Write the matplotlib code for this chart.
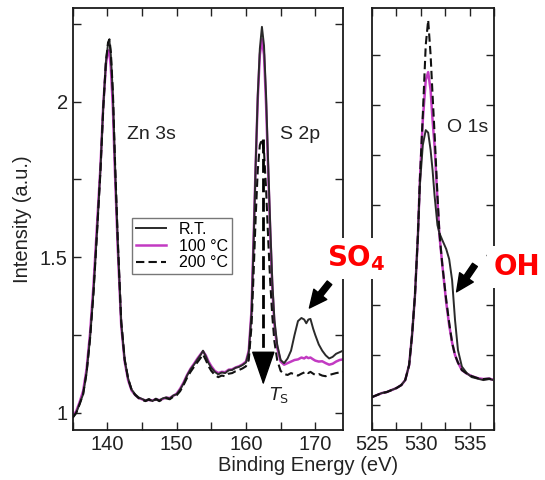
import matplotlib
matplotlib.use("Agg")
import matplotlib.pyplot as plt
from matplotlib.ticker import MultipleLocator, NullFormatter

plt.rcParams['font.family'] = ['Liberation Sans', 'DejaVu Sans']

# ---------------- data ----------------
labels = ["R.T.", "100 \u00b0C", "200 \u00b0C"]

# Zn 3s / S 2p panel
x_left = [135.0, 135.5, 136.0, 136.5, 137.0, 137.5, 138.0, 138.5, 139.0, 139.4,
          139.8, 140.1, 140.3, 140.5, 140.8, 141.1, 141.5, 142.0, 142.5, 143.0,
          143.5, 144.0, 144.5, 145.0, 145.5, 146.0, 146.5, 147.0, 147.5, 148.0,
          148.5, 149.0, 149.5, 150.0, 150.5, 151.0, 151.5, 152.0, 152.5, 153.0,
          153.5, 153.8, 154.2, 154.6, 155.0, 155.5, 156.0, 156.5, 157.0, 157.5,
          158.0, 158.5, 159.0, 159.5, 160.0, 160.4, 160.8, 161.1, 161.4, 161.7,
          162.0, 162.3, 162.6, 162.9, 163.2, 163.5, 163.8, 164.1, 164.5, 165.0,
          165.5, 166.0, 166.5, 167.0, 167.5, 168.0, 168.4, 168.7, 169.0, 169.3,
          169.7, 170.0, 170.5, 171.0, 171.5, 172.0, 172.5, 173.0, 173.5, 174.0]

rt_left = [0.985, 1.000, 1.030, 1.060, 1.130, 1.240, 1.390, 1.580, 1.780, 1.980,
           2.130, 2.185, 2.195, 2.150, 2.020, 1.800, 1.550, 1.290, 1.170, 1.110,
           1.075, 1.060, 1.050, 1.045, 1.040, 1.045, 1.038, 1.046, 1.040, 1.047,
           1.050, 1.046, 1.056, 1.060, 1.075, 1.095, 1.120, 1.140, 1.155, 1.172,
           1.188, 1.200, 1.182, 1.160, 1.145, 1.132, 1.124, 1.130, 1.128, 1.137,
           1.138, 1.145, 1.148, 1.154, 1.162, 1.195, 1.320, 1.550, 1.800, 2.020,
           2.170, 2.240, 2.180, 2.020, 1.800, 1.600, 1.420, 1.300, 1.220, 1.170,
           1.160, 1.175, 1.200, 1.250, 1.295, 1.305, 1.300, 1.288, 1.300, 1.302,
           1.270, 1.250, 1.220, 1.200, 1.185, 1.175, 1.180, 1.190, 1.195, 1.200]

c100_left = [0.990, 1.005, 1.035, 1.070, 1.140, 1.255, 1.410, 1.600, 1.790, 1.985,
             2.120, 2.165, 2.160, 2.110, 1.980, 1.770, 1.530, 1.280, 1.165, 1.105,
             1.072, 1.058, 1.048, 1.044, 1.040, 1.042, 1.040, 1.044, 1.041, 1.045,
             1.049, 1.048, 1.055, 1.062, 1.078, 1.098, 1.122, 1.142, 1.158, 1.175,
             1.190, 1.198, 1.185, 1.165, 1.150, 1.135, 1.128, 1.132, 1.131, 1.139,
             1.140, 1.146, 1.150, 1.156, 1.165, 1.200, 1.330, 1.560, 1.800, 2.010,
             2.150, 2.200, 2.150, 1.990, 1.780, 1.580, 1.400, 1.285, 1.210, 1.165,
             1.155, 1.160, 1.165, 1.170, 1.172, 1.178, 1.175, 1.180, 1.176, 1.178,
             1.172, 1.168, 1.165, 1.166, 1.160, 1.155, 1.158, 1.165, 1.170, 1.172]

c200_left = [0.985, 1.000, 1.028, 1.060, 1.128, 1.238, 1.385, 1.575, 1.775, 1.975,
             2.130, 2.190, 2.200, 2.160, 2.030, 1.810, 1.560, 1.295, 1.172, 1.110,
             1.074, 1.058, 1.048, 1.042, 1.038, 1.043, 1.036, 1.044, 1.038, 1.044,
             1.047, 1.044, 1.052, 1.057, 1.070, 1.090, 1.113, 1.132, 1.148, 1.163,
             1.178, 1.188, 1.170, 1.150, 1.135, 1.122, 1.115, 1.120, 1.118, 1.126,
             1.128, 1.134, 1.138, 1.143, 1.150, 1.170, 1.280, 1.450, 1.630, 1.780,
             1.860, 1.880, 1.840, 1.720, 1.560, 1.420, 1.310, 1.230, 1.170, 1.135,
             1.125, 1.122, 1.128, 1.124, 1.120, 1.126, 1.130, 1.134, 1.128, 1.132,
             1.126, 1.122, 1.125, 1.120, 1.118, 1.122, 1.125, 1.128, 1.130, 1.132]

# O 1s panel (own intensity scale)
x_right = [525.0, 525.5, 526.0, 526.5, 527.0, 527.5, 528.0, 528.4, 528.8, 529.1,
           529.4, 529.7, 529.9, 530.2, 530.5, 530.75, 531.0, 531.2, 531.4, 531.7,
           531.9, 532.2, 532.6, 532.9, 533.2, 533.5, 533.8, 534.2, 534.7, 535.2,
           535.8, 536.4, 537.0, 537.5]

rt_right = [1.016, 1.020, 1.024, 1.026, 1.030, 1.034, 1.040, 1.050, 1.080, 1.140,
            1.220, 1.340, 1.440, 1.520, 1.550, 1.545, 1.510, 1.470, 1.420, 1.360,
            1.344, 1.330, 1.312, 1.292, 1.250, 1.170, 1.110, 1.077, 1.064, 1.056,
            1.053, 1.050, 1.052, 1.050]

c100_right = [1.016, 1.020, 1.024, 1.026, 1.030, 1.034, 1.040, 1.050, 1.080, 1.140,
              1.220, 1.340, 1.450, 1.570, 1.650, 1.666, 1.630, 1.570, 1.520, 1.410,
              1.340, 1.280, 1.205, 1.160, 1.125, 1.100, 1.085, 1.070, 1.063, 1.058,
              1.054, 1.052, 1.053, 1.050]

c200_right = [1.016, 1.020, 1.024, 1.026, 1.030, 1.034, 1.040, 1.050, 1.080, 1.140,
              1.220, 1.340, 1.450, 1.580, 1.720, 1.770, 1.700, 1.620, 1.545, 1.420,
              1.345, 1.280, 1.210, 1.165, 1.125, 1.100, 1.085, 1.070, 1.063, 1.058,
              1.054, 1.052, 1.053, 1.050]

# ---------------- figure ----------------
fig = plt.figure(figsize=(5.45, 4.80), dpi=100)
axL = fig.add_axes([0.1334, 0.104, 0.496, 0.879])
axR = fig.add_axes([0.6826, 0.104, 0.224, 0.879])

col_rt = '#2a2a2a'
col_100 = '#c23ac2'
col_200 = '#111111'

for ax, xs, ys in [(axL, x_left, (rt_left, c100_left, c200_left)),
                   (axR, x_right, (rt_right, c100_right, c200_right))]:
    ax.plot(xs, ys[0], color=col_rt, lw=1.4, label=labels[0], zorder=3)
    ax.plot(xs, ys[1], color=col_100, lw=1.8, label=labels[1], zorder=2)
    ax.plot(xs, ys[2], color=col_200, lw=1.5, ls=(0, (4, 2)), label=labels[2], zorder=4)

axL.set_xlim(135, 174)
axL.set_ylim(0.945, 2.30)
axL.xaxis.set_major_locator(MultipleLocator(10))
axL.xaxis.set_minor_locator(MultipleLocator(5))
axL.yaxis.set_major_locator(MultipleLocator(0.5))
axL.yaxis.set_minor_locator(MultipleLocator(0.25))
axL.yaxis.set_major_formatter(plt.FuncFormatter(lambda v, p: f"{v:g}"))

axR.set_xlim(525, 537.5)
axR.set_ylim(0.95, 1.794)
axR.xaxis.set_major_locator(MultipleLocator(5))
axR.xaxis.set_minor_locator(MultipleLocator(2.5))
axR.yaxis.set_major_locator(MultipleLocator(0.1))
axR.yaxis.set_major_formatter(NullFormatter())

for ax in (axL, axR):
    ax.tick_params(which='both', direction='in', top=True, right=True,
                   labelsize=14.5, colors='#222222', width=1.0)
    ax.tick_params(which='major', length=6)
    ax.tick_params(which='minor', length=6)
    for s in ax.spines.values():
        s.set_linewidth(1.3)
        s.set_color('#1a1a1a')

axL.set_ylabel("Intensity (a.u.)", fontsize=14.5, color='#222222', labelpad=6)
fig.text(0.566, 0.031, "Binding Energy (eV)", fontsize=14.5, color='#222222',
         ha='center', va='center')

# peak labels
axL.text(146.4, 1.894, "Zn 3s", fontsize=14, ha='center', va='center', color='#222222')
axL.text(167.8, 1.894, "S 2p", fontsize=14, ha='center', va='center', color='#222222')
axR.text(534.8, 1.556, "O 1s", fontsize=14, ha='center', va='center', color='#222222')

# legend
leg = axL.legend(loc='upper left', bbox_to_anchor=(0.242, 0.546),
                 bbox_transform=fig.transFigure, fontsize=11.5, frameon=True,
                 fancybox=False, edgecolor='#555555', handlelength=1.9,
                 labelspacing=0.1, borderpad=0.25, handletextpad=0.8,
                 borderaxespad=0)
leg.get_frame().set_linewidth(1.0)

# T_S dashed arrow
axL.plot([162.5, 162.5], [1.88, 1.15], color='black', lw=2.0, ls=(0, (5, 2)), zorder=5)
axL.annotate('', xy=(162.5, 1.081), xytext=(162.5, 1.155),
             arrowprops=dict(arrowstyle='-|>,head_length=1.1,head_width=0.38',
                             color='black', lw=1.0, mutation_scale=20), zorder=6)
axL.text(164.8, 1.058, r"$T_{\mathrm{S}}$", fontsize=13, ha='center', va='center',
         color='#222222')

# feature arrows
axL.annotate('', xy=(168.9, 1.33), xytext=(172.3, 1.425),
             arrowprops=dict(arrowstyle='simple,head_length=0.9,head_width=0.85,tail_width=0.3',
                             color='black', mutation_scale=14), zorder=6)
axR.annotate('', xy=(533.5, 1.222), xytext=(535.7, 1.285),
             arrowprops=dict(arrowstyle='simple,head_length=0.9,head_width=0.85,tail_width=0.3',
                             color='black', mutation_scale=14), zorder=6)

# red annotations
fig.text(0.653, 0.462, r"SO$_\mathbf{4}$", fontsize=20, fontweight='bold', color='#ff0000',
         family='DejaVu Sans', ha='center', va='center',
         bbox=dict(facecolor='white', edgecolor='none', pad=4))
fig.text(0.949, 0.444, "OH", fontsize=20, fontweight='bold', color='#ff0000',
         family='DejaVu Sans', ha='center', va='center',
         bbox=dict(facecolor='white', edgecolor='none', pad=5))

fig.savefig("out.png", dpi=100)
